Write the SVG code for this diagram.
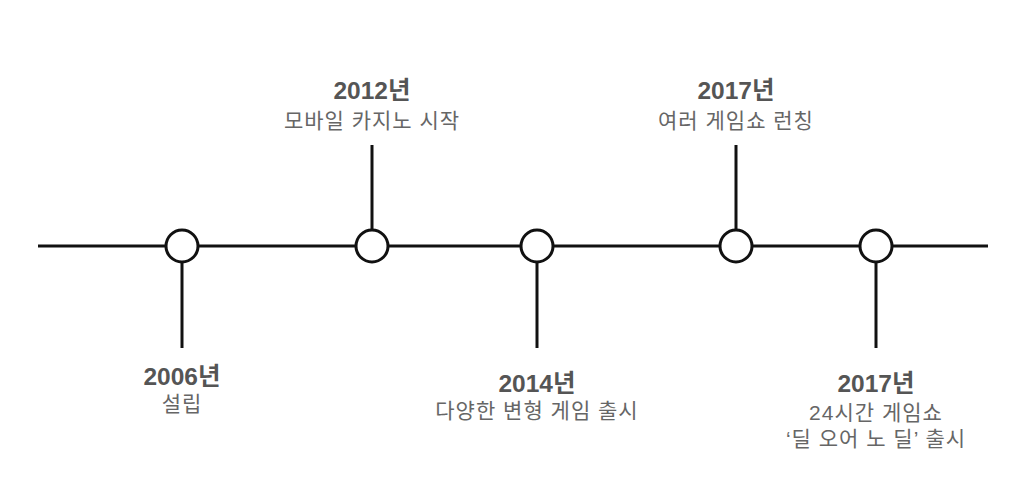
<svg xmlns="http://www.w3.org/2000/svg" width="1024" height="502" viewBox="0 0 1024 502">
<style>
.ln{stroke:#111;stroke-width:3;fill:none}
.dot{stroke:#111;stroke-width:3;fill:#fff}
.yr{font-family:"Liberation Sans","Noto Sans CJK KR",sans-serif;font-weight:bold;font-size:24.5px;fill:#555;text-anchor:middle}
.ds{font-family:"Liberation Sans","Noto Sans CJK KR",sans-serif;font-size:21px;letter-spacing:1px;fill:#666;text-anchor:middle}
</style>
<rect width="1024" height="502" fill="#fff"/>
<g id="connectors">
<line class="ln" x1="38" y1="246" x2="988" y2="246"/>
<line class="ln" x1="182" y1="262" x2="182" y2="348"/>
<line class="ln" x1="372" y1="145" x2="372" y2="230"/>
<line class="ln" x1="537" y1="262" x2="537" y2="348"/>
<line class="ln" x1="736" y1="145" x2="736" y2="230"/>
<line class="ln" x1="876" y1="262" x2="876" y2="348"/>
</g>
<g id="n2006">
<circle class="dot" cx="182" cy="246" r="16"/>
<text class="yr" x="182" y="385">2006년</text>
<text class="ds" x="182" y="411">설립</text>
</g>
<g id="n2012">
<circle class="dot" cx="372" cy="246" r="16"/>
<text class="yr" x="372" y="99">2012년</text>
<text class="ds" x="372" y="128">모바일 카지노 시작</text>
</g>
<g id="n2014">
<circle class="dot" cx="537" cy="246" r="16"/>
<text class="yr" x="537" y="392">2014년</text>
<text class="ds" x="537" y="418">다양한 변형 게임 출시</text>
</g>
<g id="n2017a">
<circle class="dot" cx="736" cy="246" r="16"/>
<text class="yr" x="736" y="99">2017년</text>
<text class="ds" x="736" y="128">여러 게임쇼 런칭</text>
</g>
<g id="n2017b">
<circle class="dot" cx="876" cy="246" r="16"/>
<text class="yr" x="876" y="392">2017년</text>
<text class="ds" x="876" y="420">24시간 게임쇼</text>
<text class="ds" x="876" y="446">‘딜 오어 노 딜’ 출시</text>
</g>
</svg>
